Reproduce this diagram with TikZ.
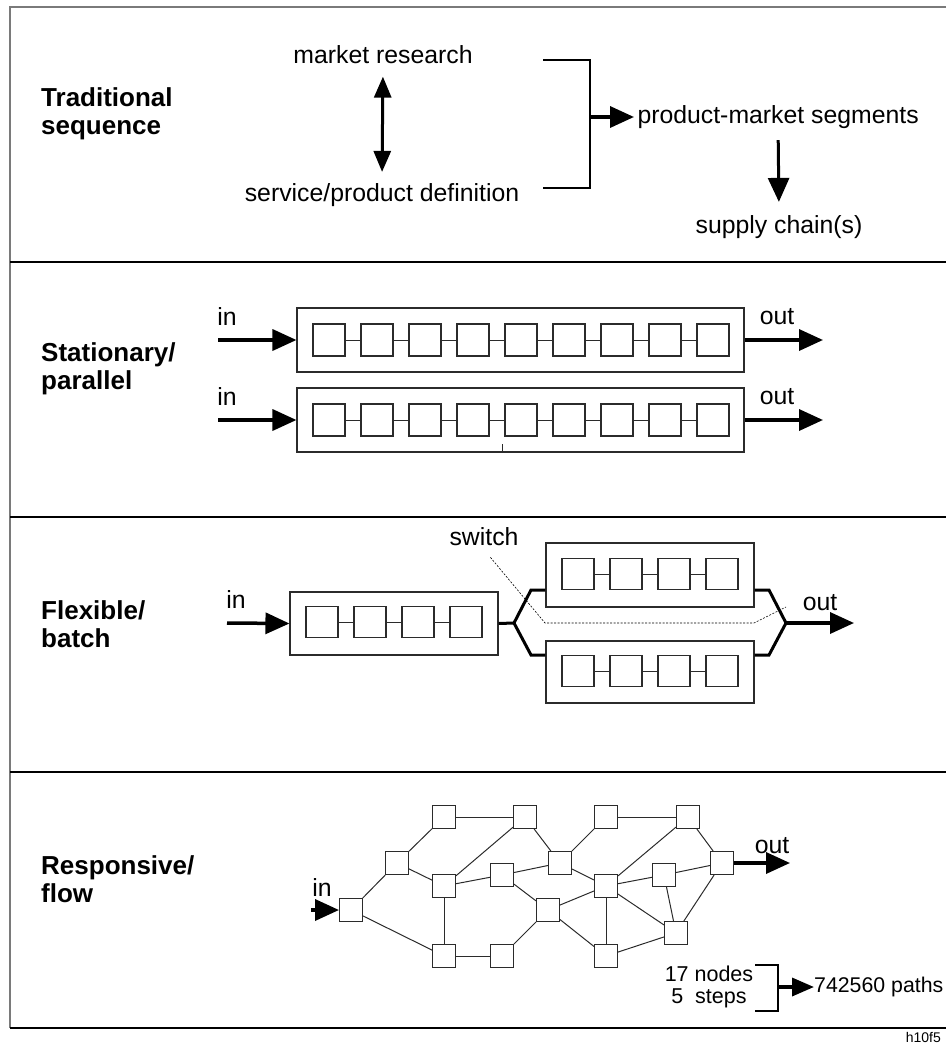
\documentclass[tikz,border=0pt]{standalone}
\usepackage{fontspec}
\setmainfont{Liberation Sans}
\usetikzlibrary{positioning,arrows.meta,calc}
\definecolor{ink}{HTML}{000000}
\definecolor{rim}{HTML}{7A7A7A}
\definecolor{edge}{HTML}{2B2B2B}

\begin{document}
\begin{tikzpicture}[x=1pt,y=-1pt,font=\fontsize{24.8}{28}\selectfont,
  cell/.style={draw=edge,line width=1.1pt,minimum width=32pt,minimum height=32pt,inner sep=0pt},
  tray/.style={draw=edge,line width=1.1pt,inner sep=0pt},
  knot/.style={draw=edge,line width=1pt,minimum size=23pt,inner sep=0pt},
  flow/.style={-{Triangle[length=24pt,width=21pt]},line width=3.5pt,ink},
  rail/.style={line width=3pt,ink,line join=miter},
  heading/.style={font=\fontsize{26}{28}\selectfont\bfseries,align=left,anchor=west,inner sep=0pt}]
  \useasboundingbox (0,0) rectangle (946,1044);

  \draw[rim,line width=2pt] (946,7) -- (10,7) -- (10,1028);
  \foreach \yy in {262,517,772,1028}
    \draw[ink,line width=1.5pt] (10,\yy) -- (946,\yy);

  \node[heading] (headtr) at (41,114) {Traditional\\sequence};
  \node[heading] (headst) at (41,369) {Stationary/\\parallel};
  \node[heading] (headfl) at (41,624) {Flexible/\\batch};
  \node[heading] (headrs) at (41,879) {Responsive/\\flow};

  \node (market) at (383,55) {market research};
  \node (define) at (382,195) {service/product definition};
  \draw[{Triangle[length=21pt,width=17pt]}-{Triangle[length=21pt,width=17pt]},line width=3pt,shorten <=9pt,shorten >=8pt] (market.south) -- (define.north);
  \draw[ink,line width=1.2pt] (543,60) -- (590,60) -- (590,188) -- (543,188);
  \coordinate (join) at (590,117);
  \node[anchor=west] (segments) at (634,117) {product-market segments};
  \draw[flow] (join) -- (segments.west);
  \node (chain) at (779,227) {supply chain(s)};
  \draw[flow,line width=3pt,shorten <=8pt,shorten >=10pt] (segments.south) -- (chain.north);

  \foreach \r/\yy in {a/340,b/420}{
    \node[tray,minimum width=447pt,minimum height=64pt] (tray\r) at (520.5,\yy) {};
    \foreach \i in {0,...,8} \node[cell] (\r\i) at (329+48*\i,\yy) {};
    \foreach \i [evaluate=\i as \j using int(\i+1)] in {0,...,7} \draw[edge,line width=1pt] (\r\i) -- (\r\j);
    \coordinate (src\r) at (218,\yy);
    \coordinate (snk\r) at (823,\yy);
    \draw[flow] (src\r) -- (tray\r.west);
    \draw[flow] (tray\r.east) -- (snk\r);
    \node at (227,\yy-23) {in};
    \node at (777,\yy-23) {out};
  }
  \draw[edge,line width=1pt] (502,444) -- (502,453);

  \node[tray,minimum width=208pt,minimum height=63pt] (batchL) at (394,623.5) {};
  \node[tray,minimum width=208pt,minimum height=64pt] (batchU) at (650,575) {};
  \node[tray,minimum width=208pt,minimum height=62pt] (batchD) at (650,672) {};
  \foreach \b/\x/\yy in {L/322/622,U/578/574,D/578/671}{
    \foreach \i in {0,...,3} \node[cell,minimum height=31pt] (\b\i) at (\x+48*\i,\yy) {};
    \foreach \i [evaluate=\i as \j using int(\i+1)] in {0,1,2} \draw[edge,line width=1pt] (\b\i) -- (\b\j);
  }
  \coordinate (split) at (514,623);
  \coordinate (merge) at (786,623);
  \draw[rail] (batchL.east) -- (split);
  \draw[rail] (batchU.west |- 0,590) -- (531,590) -- (split) -- (531,655) -- (batchD.west |- 0,655);
  \draw[rail] (batchU.east |- 0,590) -- (769,590) -- (merge) -- (769,655) -- (batchD.east |- 0,655);
  \coordinate (flexin) at (227,623);
  \coordinate (flexout) at (854,623);
  \draw[flow] (flexin) -- (batchL.west);
  \draw[flow] (merge) -- (flexout);
  \node at (236,600) {in};
  \node at (820,603) {out};
  \node (switch) at (484,537) {switch};
  \draw[ink,line width=0.6pt,dash pattern=on 2pt off 1.5pt,shorten <=10pt] (switch.south) -- (545,623) -- (754,623) -- (786,607);

  \foreach \n/\x/\yy in {1/351/910,2/397/863,3/444/817,4/525/817,5/444/886,6/444/956,7/502/875,8/502/956,9/560/863,
      10/548/910,11/606/817,12/688/817,13/606/886,14/606/956,15/664/875,16/676/933,17/722/863}
    \node[knot] (n\n) at (\x,\yy) {};
  \foreach \a/\b in {1/2,1/6,2/3,2/5,3/4,4/5,4/9,5/6,5/7,6/8,7/9,7/10,8/10,9/11,9/13,10/13,10/14,
      11/12,12/13,12/17,13/14,13/15,13/16,14/16,15/16,15/17,16/17}
    \draw[edge,line width=1pt] (n\a) -- (n\b);
  \coordinate (netin) at (311,910);
  \coordinate (netout) at (790,863);
  \draw[flow] (netin) -- (n1.west);
  \draw[flow] (n17.east) -- (netout);
  \node at (322,888) {in};
  \node at (772,846) {out};

  \node[align=center,font=\fontsize{21.5}{22}\selectfont] (tally) at (709,987) {17 nodes\\5~~steps};
  \draw[ink,line width=1.2pt] (755,965) -- (778,965) -- (778,1011) -- (755,1011);
  \coordinate (tallyjoin) at (778,987);
  \node[anchor=west,inner sep=0pt,font=\fontsize{21.3}{24}\selectfont] (paths) at (814,987) {742560 paths};
  \draw[flow,-{Triangle[length=22pt,width=18pt]}] (tallyjoin) -- (paths.west);
  \node[anchor=base east,inner sep=0pt,font=\fontsize{14}{16}\selectfont] (tag) at (941,1042.5) {h10f5};
\end{tikzpicture}
\end{document}
